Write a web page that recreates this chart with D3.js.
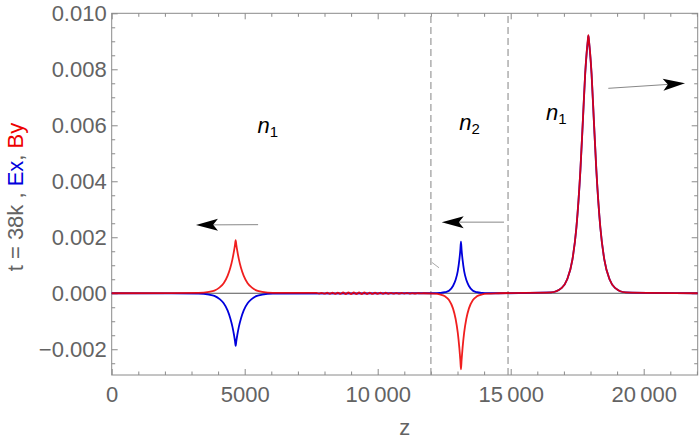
<!DOCTYPE html>
<html>
<head>
<meta charset="utf-8">
<script src="https://cdn.jsdelivr.net/npm/d3@7"></script>
<style>
  body { margin: 0; background: #fff; }
  svg { display: block; font-family: "Liberation Sans", Arial, sans-serif; }
</style>
</head>
<body>
<div class="svg-container"></div>
<script>
// values
const zDomain = [0, 22030];
const yDomain = [-0.00292, 0.010];

const xMajorTicks = [0, 5000, 10000, 15000, 20000];
const yMajorTicks = [-0.002, 0, 0.002, 0.004, 0.006, 0.008, 0.010];

// pulse centres (z) and sample offsets on one side of each centre
const pulseCenters = [4660, 13130, 17920];
const offsets = [0, 25, 60, 120, 200, 300, 450, 600, 800, 1000, 1400];

// By and Ex at those offsets, pulse by pulse (pulses are symmetric)
const byPulse1 = [0.00190, 0.00173, 0.00152, 0.00122, 0.00091, 0.00063, 0.00036, 0.00021, 0.000095, 0.000048, 0.00001];
const exPulse1 = [-0.00188, -0.00171, -0.00150, -0.00120, -0.00090, -0.00062, -0.00036, -0.00021, -0.000094, -0.000047, -0.00001];
const byPulse2 = [-0.00272, -0.00237, -0.00196, -0.00141, -0.00092, -0.00054, -0.00024, -0.00011, -0.00004, -0.000014, 0];
const exPulse2 = [0.00184, 0.00153, 0.00120, 0.00079, 0.00048, 0.00026, 0.00009, 0.000037, 0.00001, 0, 0];
const byPulse3 = [0.00922, 0.00900, 0.00865, 0.00785, 0.00630, 0.00440, 0.00235, 0.00120, 0.00049, 0.00019, 0.00003];
const exPulse3 = [0.00920, 0.00898, 0.00863, 0.00783, 0.00629, 0.00439, 0.00235, 0.00120, 0.00049, 0.00019, 0.00003];

// small ripple on By between the first two pulses
const rippleZ = [7700, 7800, 7900, 8000, 8100, 8200, 8300, 8400, 8500, 8600,
  8700, 8800, 8900, 9000, 9100, 9200, 9300, 9400, 9500, 9600,
  9700, 9800, 9900, 10000, 10100, 10200, 10300, 10400, 10500, 10600,
  10700, 10800, 10900, 11000, 11100, 11200, 11300, 11400, 11500, 11600];
const rippleBy = [1, -1, 1.5, -1.5, 2, -2, 2, -2.5, 2.5, -2.5,
  3, -3, 3, -3, 3, -3, 3, -3, 3, -3,
  2.5, -2.5, 2.5, -2.5, 2, -2, 2, -2, 1.5, -1.5,
  1.5, -1.5, 1, -1, 1, -1, 0.8, -0.8, 0.5, -0.5].map(v => v * 1e-5);

// interfaces between regions
const interfaces = [12000, 14900];

// annotations in data coordinates
const arrows = [
  { from: [5504, 0.00245], to: [3169, 0.00244] },
  { from: [14748, 0.00254], to: [12406, 0.00254] },
  { from: [18669, 0.00732], to: [21553, 0.00750] }
];
const regionLabels = [
  { z: 5480, v: 0.00573, sub: '1' },
  { z: 13070, v: 0.00583, sub: '2' },
  { z: 16330, v: 0.00620, sub: '1' }
];
const strayMark = [[12040, 0.00110], [12305, 0.00091]];

function buildSeries(pulses, ripple) {
  const pts = [[zDomain[0], 0], [zDomain[1], 0]];
  pulses.forEach((vals, i) => {
    offsets.forEach((o, j) => {
      pts.push([pulseCenters[i] + o, vals[j]]);
      if (o !== 0) pts.push([pulseCenters[i] - o, vals[j]]);
    });
  });
  if (ripple) ripple.forEach(p => pts.push(p));
  return pts.sort((a, b) => a[0] - b[0]);
}

const exSeries = buildSeries([exPulse1, exPulse2, exPulse3]);
const bySeries = buildSeries([byPulse1, byPulse2, byPulse3], rippleZ.map((z, i) => [z, rippleBy[i]]));

const width = 700;
const height = 441;
const margin = { top: 13.3, right: 2.3, bottom: 66, left: 111.7 };

const x = d3.scaleLinear().domain(zDomain).range([margin.left, width - margin.right]);
const y = d3.scaleLinear().domain(yDomain).range([height - margin.bottom, margin.top]);

const svg = d3.select('.svg-container')
  .append('svg')
  .attr('width', width)
  .attr('height', height);

const frameColour = '#8a8a8a';
const labelColour = '#636363';

const xMinor = d3.range(0, zDomain[1], 1000).filter(d => d % 5000 !== 0);
const yMinor = d3.range(-0.0025, 0.01, 0.0005).filter(d => Math.abs(Math.round(d * 1e4) % 20) > 1e-6);

function tickGroup(axisFn, scale, values, size, transform) {
  const g = svg.append('g')
    .attr('transform', transform)
    .call(axisFn(scale).tickValues(values).tickSize(size).tickSizeOuter(0).tickFormat(''));
  g.select('.domain').remove();
  g.selectAll('.tick line').attr('stroke', frameColour);
  return g;
}

const fmtX = d => d3.format(',')(d).replace(',', '\u2009').replace(/^(\d)\u2009(\d{3})$/, '$1$2');
const fmtY = d => (d < 0 ? '\u2212' : '') + d3.format('.3f')(Math.abs(d));

// bottom axis
const bottomAxis = svg.append('g')
  .attr('transform', `translate(0,${height - margin.bottom})`)
  .call(d3.axisBottom(x).tickValues(xMajorTicks).tickSize(-6).tickPadding(11).tickFormat(fmtX));
bottomAxis.select('.domain').remove();
bottomAxis.selectAll('.tick line').attr('stroke', frameColour);
bottomAxis.selectAll('.tick text').attr('fill', labelColour).attr('font-size', 22);
tickGroup(d3.axisBottom, x, xMinor, -3.5, `translate(0,${height - margin.bottom})`);

// top axis
tickGroup(d3.axisTop, x, xMajorTicks, -6, `translate(0,${margin.top})`);
tickGroup(d3.axisTop, x, xMinor, -3.5, `translate(0,${margin.top})`);

// left axis
const leftAxis = svg.append('g')
  .attr('transform', `translate(${margin.left},0)`)
  .call(d3.axisLeft(y).tickValues(yMajorTicks).tickSize(-6).tickPadding(5).tickFormat(fmtY));
leftAxis.select('.domain').remove();
leftAxis.selectAll('.tick line').attr('stroke', frameColour);
leftAxis.selectAll('.tick text').attr('fill', labelColour).attr('font-size', 22);
tickGroup(d3.axisLeft, y, yMinor, -3.5, `translate(${margin.left},0)`);

// right axis
tickGroup(d3.axisRight, y, yMajorTicks, -6, `translate(${width - margin.right},0)`);
tickGroup(d3.axisRight, y, yMinor, -3.5, `translate(${width - margin.right},0)`);

// frame
svg.append('rect')
  .attr('x', x(zDomain[0]))
  .attr('y', y(yDomain[1]))
  .attr('width', x(zDomain[1]) - x(zDomain[0]))
  .attr('height', y(yDomain[0]) - y(yDomain[1]))
  .attr('fill', 'none')
  .attr('stroke', frameColour)
  .attr('stroke-width', 1);

// zero line
svg.append('line')
  .attr('x1', x(zDomain[0])).attr('x2', x(zDomain[1]))
  .attr('y1', y(0)).attr('y2', y(0))
  .attr('stroke', '#555')
  .attr('stroke-width', 1);

// interface lines
svg.append('g')
  .selectAll('line')
  .data(interfaces)
  .enter()
  .append('line')
  .attr('x1', d => x(d)).attr('x2', d => x(d))
  .attr('y1', y(yDomain[0])).attr('y2', y(yDomain[1]))
  .attr('stroke', '#999')
  .attr('stroke-width', 1.2)
  .attr('stroke-dasharray', '7,4');

// stray mark near the first interface
svg.append('line')
  .attr('x1', x(strayMark[0][0])).attr('y1', y(strayMark[0][1]))
  .attr('x2', x(strayMark[1][0])).attr('y2', y(strayMark[1][1]))
  .attr('stroke', '#aaa')
  .attr('stroke-width', 1);

// curves
const line = d3.line()
  .x(d => x(d[0]))
  .y(d => y(d[1]))
  .curve(d3.curveMonotoneX);

svg.append('path')
  .datum(exSeries)
  .attr('d', line)
  .attr('fill', 'none')
  .attr('stroke', '#0000dc')
  .attr('stroke-width', 1.8);

svg.append('path')
  .datum(bySeries)
  .attr('d', line)
  .attr('fill', 'none')
  .attr('stroke', '#ee0000')
  .attr('stroke-opacity', 0.88)
  .attr('stroke-width', 1.8);

// arrows
const headLen = 22;
const headHalf = 6;
arrows.forEach((a) => {
  const x0 = x(a.from[0]), y0 = y(a.from[1]);
  const x1 = x(a.to[0]), y1 = y(a.to[1]);
  const len = Math.hypot(x1 - x0, y1 - y0);
  const ux = (x1 - x0) / len, uy = (y1 - y0) / len;
  const bx = x1 - ux * headLen, by = y1 - uy * headLen;
  const nx = x1 - ux * headLen * 0.78, ny = y1 - uy * headLen * 0.78;

  svg.append('line')
    .attr('x1', x0).attr('y1', y0)
    .attr('x2', nx).attr('y2', ny)
    .attr('stroke', '#888')
    .attr('stroke-width', 1);

  svg.append('path')
    .attr('d', `M${x1},${y1}L${bx - uy * headHalf},${by + ux * headHalf}L${nx},${ny}L${bx + uy * headHalf},${by - ux * headHalf}Z`)
    .attr('fill', '#000');
});

// region labels
const labels = svg.append('g')
  .selectAll('text')
  .data(regionLabels)
  .enter()
  .append('text')
  .attr('x', d => x(d.z))
  .attr('y', d => y(d.v))
  .attr('font-size', 22)
  .attr('fill', '#000');
labels.append('tspan').attr('font-style', 'italic').text('n');
labels.append('tspan').attr('font-size', 15).attr('dy', 4).text(d => d.sub);

// axis labels
svg.append('text')
  .attr('x', (x(zDomain[0]) + x(zDomain[1])) / 2)
  .attr('y', 435)
  .attr('text-anchor', 'middle')
  .attr('font-size', 22)
  .attr('fill', labelColour)
  .text('z');

const yLabel = svg.append('text')
  .attr('transform', 'translate(23,197) rotate(-90)')
  .attr('text-anchor', 'middle')
  .attr('font-size', 22)
  .attr('fill', labelColour);
yLabel.append('tspan').text('t = 38k , ');
yLabel.append('tspan').attr('fill', '#0000dc').text('Ex');
yLabel.append('tspan').text(', ');
yLabel.append('tspan').attr('fill', '#ee0000').text('By');
</script>
</body>
</html>
